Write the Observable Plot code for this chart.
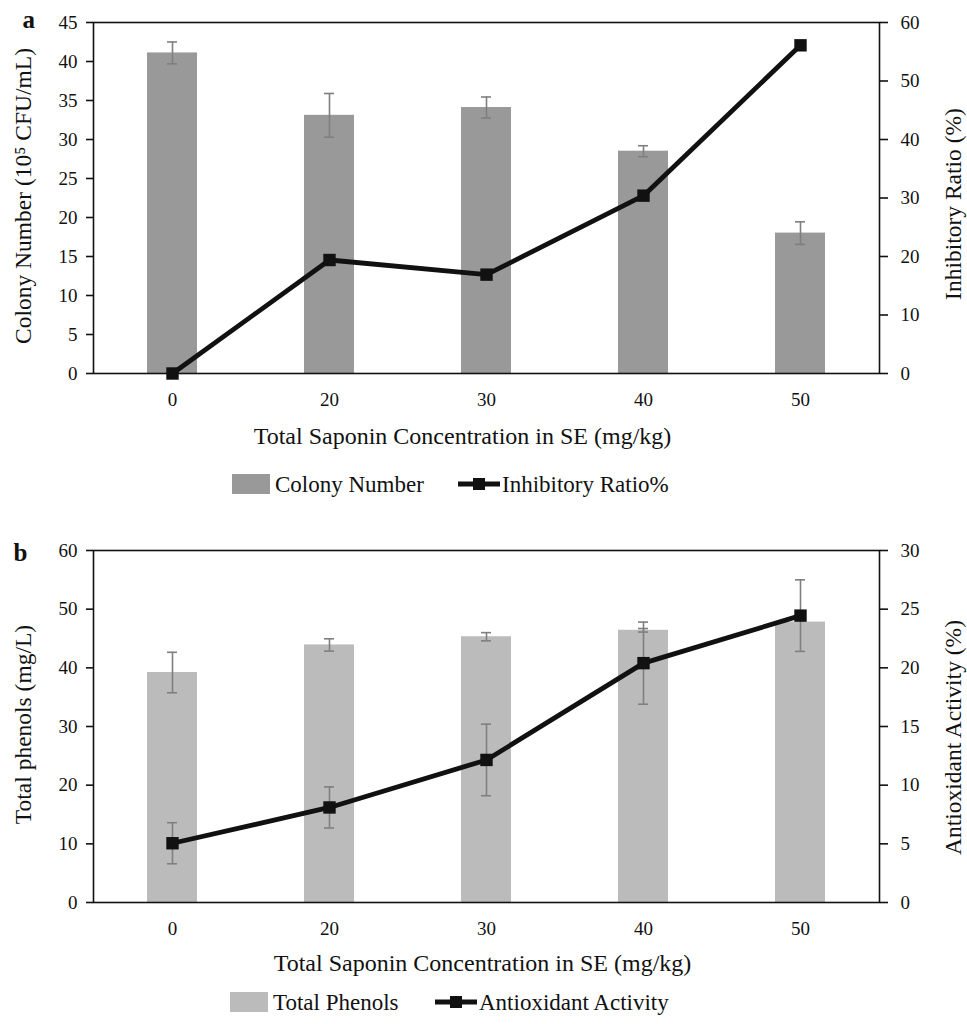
<!DOCTYPE html>
<html>
<head>
<meta charset="utf-8">
<script src="https://cdn.jsdelivr.net/npm/d3@7"></script>
<script src="https://cdn.jsdelivr.net/npm/@observablehq/plot@0.6"></script>
<style>
  html, body { margin: 0; padding: 0; background: white; }
  body { width: 967px; font-family: "Liberation Serif", "Times New Roman", serif; color: #111; }
  .legend { position: relative; width: 967px; }
  .legend .item { position: absolute; display: flex; align-items: center; font-size: 23px; line-height: 1; white-space: nowrap; }
  .sw { display: inline-block; }
</style>
</head>
<body>
<div id="chart"></div>
<script>
// ---- data ----
const concentrations = ["0", "20", "30", "40", "50"];
const colonyNumber = [41.1, 33.1, 34.1, 28.5, 18.0];
const colonyErr = [1.4, 2.8, 1.35, 0.7, 1.45];
const inhibitoryRatio = [0, 19.4, 16.9, 30.4, 56.1];
const totalPhenols = [39.2, 43.9, 45.3, 46.4, 47.8];
const phenolsErr = [3.45, 1.05, 0.7, 0.3, 0];
const antioxidant = [5.05, 8.1, 12.15, 20.4, 24.45];
const antioxidantErr = [1.75, 1.75, 3.05, 3.5, 3.05];

const ticksLeftA = [0, 5, 10, 15, 20, 25, 30, 35, 40, 45];
const ticksRightA = [0, 10, 20, 30, 40, 50, 60];
const ticksLeftB = [0, 10, 20, 30, 40, 50, 60];
const ticksRightB = [0, 5, 10, 15, 20, 25, 30];

const xTitle = "Total Saponin Concentration in SE (mg/kg)";
const FONT = '"Liberation Serif", "Times New Roman", serif';

function panel(cfg) {
  const k = cfg.leftMax / cfg.rightMax;
  const rows = concentrations.map((c, i) => ({
    c, bar: cfg.bar[i], barErr: cfg.barErr[i], line: cfg.line[i], lineErr: cfg.lineErr ? cfg.lineErr[i] : 0
  }));
  const barE = rows.filter(d => d.barErr > 0);
  const lineE = rows.filter(d => d.lineErr > 0);
  const errStyle = {stroke: "#7f7f7f", strokeWidth: 1.6};
  return Plot.plot({
    width: 967,
    height: cfg.height,
    marginLeft: 93,
    marginRight: 88,
    marginTop: cfg.marginTop,
    marginBottom: cfg.marginBottom,
    style: {fontFamily: FONT, fontSize: "19px", color: "#111", background: "white", overflow: "visible"},
    x: {type: "band", domain: concentrations, paddingInner: 0.68, paddingOuter: 0.34},
    y: {domain: [0, cfg.leftMax]},
    marks: [
      Plot.barY(rows, {x: "c", y: "bar", fill: cfg.barColor}),
      Plot.ruleX(barE, {x: "c", y1: d => d.bar - d.barErr, y2: d => d.bar + d.barErr, ...errStyle}),
      Plot.tickY(barE, {x: "c", y: d => d.bar + d.barErr, insetLeft: 20, insetRight: 20, ...errStyle}),
      Plot.tickY(barE, {x: "c", y: d => d.bar - d.barErr, insetLeft: 20, insetRight: 20, ...errStyle}),
      Plot.ruleX(lineE, {x: "c", y1: d => (d.line - d.lineErr) * k, y2: d => (d.line + d.lineErr) * k, ...errStyle}),
      Plot.tickY(lineE, {x: "c", y: d => (d.line + d.lineErr) * k, insetLeft: 20, insetRight: 20, ...errStyle}),
      Plot.tickY(lineE, {x: "c", y: d => (d.line - d.lineErr) * k, insetLeft: 20, insetRight: 20, ...errStyle}),
      Plot.lineY(rows, {x: "c", y: d => d.line * k, stroke: "#111", strokeWidth: 4.8}),
      Plot.dot(rows, {x: "c", y: d => d.line * k, symbol: "square", r: 7, fill: "#111", stroke: "none"}),
      Plot.frame({stroke: "#111", strokeWidth: 1.6}),
      Plot.axisY(cfg.ticksLeft, {anchor: "left", tickSize: 7, tickPadding: 9, label: null, strokeWidth: 1.6}),
      Plot.axisY(cfg.ticksRight.map(v => v * k), {anchor: "right", tickSize: 8, tickPadding: 13, label: null, strokeWidth: 1.6,
        tickFormat: v => String(Math.round(v / k))}),
      Plot.axisX({tickSize: 0, tickPadding: 19, label: null}),
      Plot.text([xTitle], {text: d => d, frameAnchor: "bottom", dx: cfg.xTitleDx, dy: cfg.xTitleDy, fontSize: 24, textAnchor: "middle", lineAnchor: "middle"}),
      Plot.text([cfg.leftTitle], {text: d => d, frameAnchor: "left", dx: cfg.leftTitleDx, dy: cfg.leftTitleDy, rotate: -90, fontSize: 23.5, textAnchor: "middle", lineAnchor: "middle"}),
      Plot.text([cfg.rightTitle], {text: d => d, frameAnchor: "right", dx: 74, dy: cfg.rightTitleDy, rotate: -90, fontSize: 23.5, textAnchor: "middle", lineAnchor: "middle"}),
      Plot.text([cfg.tag], {text: d => d, frameAnchor: "top-left", dx: cfg.tagDx, dy: cfg.tagDy, fontSize: 25, fontWeight: "bold", textAnchor: "start", lineAnchor: "middle"})
    ]
  });
}

function legend(cfg) {
  const div = document.createElement("div");
  div.className = "legend";
  div.style.height = cfg.height + "px";
  const mid = cfg.height / 2;
  div.innerHTML = `
    <div class="item" style="left:${cfg.x1}px; top:${mid - 12}px; height:24px;">
      <span class="sw" style="width:38px;height:20px;background:${cfg.barColor};margin-right:5px;"></span>${cfg.barLabel}
    </div>
    <div class="item" style="left:${cfg.x2}px; top:${mid - 12}px; height:24px;">
      <svg width="42" height="14" style="margin-right:2px;"><line x1="0" y1="7" x2="42" y2="7" stroke="#111" stroke-width="4.8"/><rect x="15" y="1" width="12" height="12" fill="#111"/></svg>${cfg.lineLabel}
    </div>`;
  return div;
}

const root = document.getElementById("chart");

root.appendChild(panel({
  height: 455, marginTop: 22, marginBottom: 82,
  leftMax: 45, rightMax: 60,
  bar: colonyNumber, barErr: colonyErr, line: inhibitoryRatio, lineErr: null,
  barColor: "#999999",
  ticksLeft: ticksLeftA, ticksRight: ticksRightA,
  leftTitle: "Colony Number (10\u2075 CFU/mL)", rightTitle: "Inhibitory Ratio (%)",
  xTitleDx: -24, xTitleDy: 63, leftTitleDx: -70, leftTitleDy: -2, rightTitleDy: 6,
  tag: "a", tagDx: -71, tagDy: -3
}));
root.appendChild(legend({height: 58, x1: 232, x2: 458, barColor: "#999999", barLabel: "Colony Number", lineLabel: "Inhibitory Ratio%"}));

root.appendChild(panel({
  height: 465, marginTop: 37, marginBottom: 76,
  leftMax: 60, rightMax: 30,
  bar: totalPhenols, barErr: phenolsErr, line: antioxidant, lineErr: antioxidantErr,
  barColor: "#bbbbbb",
  ticksLeft: ticksLeftB, ticksRight: ticksRightB,
  leftTitle: "Total phenols (mg/L)", rightTitle: "Antioxidant Activity (%)",
  xTitleDx: -4, xTitleDy: 61, leftTitleDx: -70, leftTitleDy: -2, rightTitleDy: 11,
  tag: "b", tagDx: -80, tagDy: 2
}));
root.appendChild(legend({height: 48, x1: 230, x2: 435, barColor: "#bbbbbb", barLabel: "Total Phenols", lineLabel: "Antioxidant Activity"}));
</script>
</body>
</html>
